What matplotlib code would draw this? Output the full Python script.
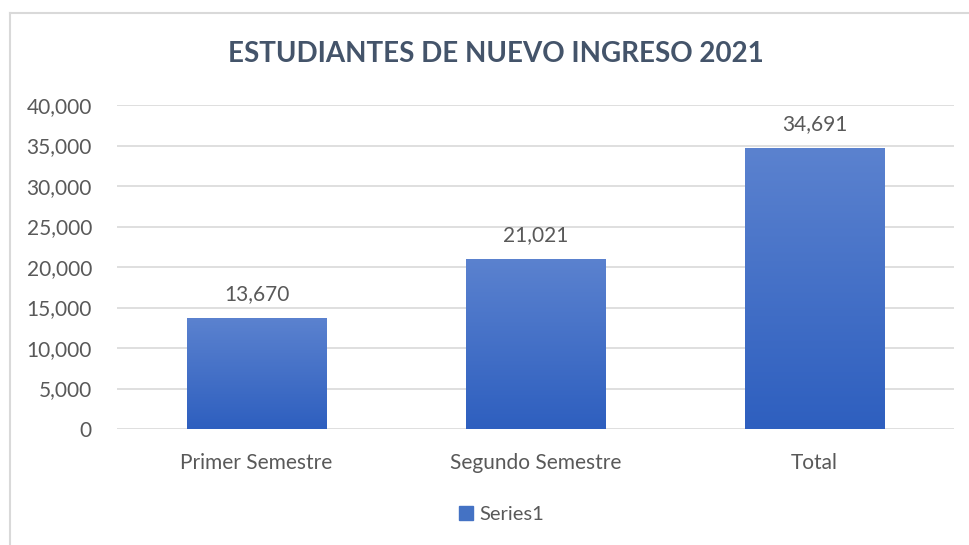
import matplotlib
matplotlib.use("Agg")
import matplotlib.pyplot as plt
import numpy as np
from matplotlib.colors import LinearSegmentedColormap
from matplotlib.lines import Line2D

categories = ["Primer Semestre", "Segundo Semestre", "Total"]
values = [13670, 21021, 34691]
value_labels = ["13,670", "21,021", "34,691"]
yticks = [0, 5000, 10000, 15000, 20000, 25000, 30000, 35000, 40000]
ytick_labels = ["0", "5,000", "10,000", "15,000", "20,000", "25,000", "30,000", "35,000", "40,000"]
title = "ESTUDIANTES DE NUEVO INGRESO 2021"
series_name = "Series1"

plt.rcParams['font.family'] = ['Lato', 'DejaVu Sans']
txt = "#595959"

fig = plt.figure(figsize=(9.69, 5.45), dpi=100)
W, H = 969, 545
ax = fig.add_axes([117 / W, 1 - 429 / H, (954 - 117) / W, (429 - 105) / H])

x = np.arange(len(categories))
bars = ax.bar(x, values, width=0.5, color="#4472c4", zorder=2)

cmap = LinearSegmentedColormap.from_list("g", ["#2e5fbf", "#5b82cf"])
grad = np.linspace(0, 1, 256).reshape(-1, 1)
for b in bars:
    b.set_facecolor("none")
    bx, by = b.get_x(), b.get_y()
    bw, bh = b.get_width(), b.get_height()
    im = ax.imshow(grad, cmap=cmap, aspect="auto", origin="lower",
                   extent=[bx, bx + bw, by, by + bh], zorder=2)
    im.set_clip_path(b)

ax.set_xlim(-0.5, len(categories) - 0.5)
ax.set_ylim(0, 40000)
ax.set_yticks(yticks)
ax.set_yticklabels(ytick_labels)
ax.set_xticks(x)
ax.set_xticklabels(categories)
ax.tick_params(axis="both", length=0, labelsize=15, colors=txt)
ax.tick_params(axis="y", pad=18)
ax.tick_params(axis="x", pad=17)
ax.grid(axis="y", color="#d9d9d9", linewidth=1.2, zorder=0)
ax.set_axisbelow(True)
for s in ax.spines.values():
    s.set_visible(False)

for xi, v, lab in zip(x, values, value_labels):
    ax.annotate(lab, (xi, v), xytext=(0, 10), textcoords="offset points",
                ha="center", va="bottom", fontsize=15, color=txt)

fig.text(496 / W, 1 - 54 / H, title, ha="center", va="center",
         fontsize=20, fontweight="bold", color="#44546a")

handle = Line2D([], [], marker="s", linestyle="none", markersize=9.5,
                markerfacecolor="#4472c4", markeredgecolor="#4472c4")
fig.legend([handle], [series_name], loc="center", bbox_to_anchor=(500 / W, 1 - 514 / H),
           frameon=False, fontsize=14.5, labelcolor=txt, handletextpad=0.2,
           handlelength=1.0)

# outer chart frame
fig.add_artist(Line2D([9.5 / W, 9.5 / W], [0, 1 - 13 / H], transform=fig.transFigure,
                      color="#d9d9d9", linewidth=1.5))
fig.add_artist(Line2D([9.5 / W, 1], [1 - 13 / H, 1 - 13 / H], transform=fig.transFigure,
                      color="#d9d9d9", linewidth=1.5))

fig.savefig("out.png", dpi=100)
